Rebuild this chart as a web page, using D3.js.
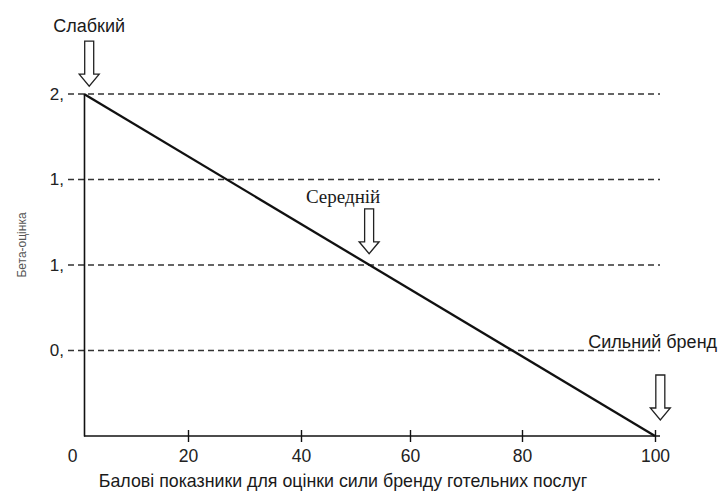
<!DOCTYPE html>
<html><head><meta charset="utf-8">
<script src="https://cdn.jsdelivr.net/npm/d3@7"></script>
<style>body{margin:0;background:#fff}</style>
</head><body>
<svg id="chart" width="721" height="493"></svg>
<script>
// ---- data ----
const xTicks = [0, 20, 40, 60, 80, 100];
const xTickLabels = ["0", "20", "40", "60", "80", "100"];
const yTicks = [0.5, 1.0, 1.5, 2.0];
const yTickLabels = ["0,", "1,", "1,", "2,"];
const lineX = [0, 100];
const lineY = [2.0, 0.0];
const markerLabels = ["Слабкий", "Середній", "Сильний бренд"];
const markerX = [1, 52.5, 100.8];
const xTitle = "Балові показники для оцінки сили бренду готельних послуг";
const yTitle = "Бета-оцінка";

// ---- layout ----
const sans = "'Liberation Sans', Arial, sans-serif";
const serif = "'Liberation Serif', 'Times New Roman', serif";
const svg = d3.select("#chart");

// hand-drawn axis: tick spacing is slightly irregular in the source
const x = d3.scaleLinear().domain(xTicks).range([84, 188, 301, 410, 522, 655]);
const y = d3.scaleLinear().domain([0, 2]).range([436, 94]);

// dashed grid lines
svg.append("g").selectAll("line").data(yTicks).join("line")
  .attr("x1", 68).attr("x2", 660)
  .attr("y1", d => y(d)).attr("y2", d => y(d))
  .attr("stroke", "#333").attr("stroke-width", 1.3)
  .attr("stroke-dasharray", "6,4");

// y axis
const ya = svg.append("g").attr("transform", `translate(${x(0)},0)`)
  .call(d3.axisLeft(y).tickValues(yTicks).tickSize(0).tickPadding(20)
    .tickFormat((d, i) => yTickLabels[i]));
ya.select(".domain").attr("stroke", "#111").attr("stroke-width", 1.6);
ya.selectAll("text").attr("font-family", sans).attr("font-size", 17).attr("fill", "#222");

// x axis
const xa = svg.append("g").attr("transform", `translate(0,${y(0)})`)
  .call(d3.axisBottom(x).tickValues(xTicks).tickSize(6).tickSizeOuter(0).tickPadding(8)
    .tickFormat((d, i) => xTickLabels[i]));
xa.select(".domain").remove();
xa.append("line").attr("x1", x(0)).attr("x2", x(100) + 5).attr("y1", 0).attr("y2", 0)
  .attr("stroke", "#111").attr("stroke-width", 1.6);
xa.selectAll(".tick line").attr("y1", -6).attr("y2", 6).attr("stroke", "#111").attr("stroke-width", 1.4)
  .filter(d => d === 0).remove();
xa.selectAll(".tick text").attr("font-family", sans).attr("font-size", 17.5).attr("fill", "#222")
  .attr("dx", d => d === 0 ? -12 : 0);

// main line
svg.append("path")
  .datum(lineX.map((v, i) => [v, lineY[i]]))
  .attr("d", d3.line().x(d => x(d[0])).y(d => y(d[1])))
  .attr("fill", "none").attr("stroke", "#111").attr("stroke-width", 2.3);

// arrows + labels
const px0 = x(lineX[0]), py0 = y(lineY[0]), px1 = x(lineX[1]), py1 = y(lineY[1]);
function lineYAt(px) {
  const t = Math.max(0, Math.min(1, (px - px0) / (px1 - px0)));
  return py0 + t * (py1 - py0);
}
const labelLayout = [
  {dx: 0, dy: -9, anchor: "middle", font: sans, size: 18, gap: 11},
  {dx: -26, dy: -6, anchor: "middle", font: serif, size: 19, gap: 11},
  {dx: -72, dy: -27, anchor: "start", font: sans, size: 18, gap: 16}
];
markerLabels.forEach((lab, i) => {
  const L = labelLayout[i];
  const cx = x(markerX[i]);
  const tip = lineYAt(cx) - L.gap;
  const top = tip - 45;
  const p = d3.path();
  p.moveTo(cx - 4.5, top); p.lineTo(cx + 4.5, top); p.lineTo(cx + 4.5, tip - 12);
  p.lineTo(cx + 10, tip - 12); p.lineTo(cx, tip); p.lineTo(cx - 10, tip - 12);
  p.lineTo(cx - 4.5, tip - 12); p.closePath();
  svg.append("path").attr("d", p.toString())
    .attr("fill", "#fff").attr("stroke", "#222").attr("stroke-width", 1.3);
  svg.append("text").attr("x", cx + L.dx).attr("y", top + L.dy)
    .attr("text-anchor", L.anchor).attr("font-family", L.font).attr("font-size", L.size)
    .attr("fill", "#1a1a1a").text(lab);
});

// axis titles
svg.append("text").attr("x", 343).attr("y", 487).attr("text-anchor", "middle")
  .attr("font-family", sans).attr("font-size", 17.8).attr("fill", "#1a1a1a").text(xTitle);
svg.append("text").attr("transform", "translate(26,245) rotate(-90)").attr("text-anchor", "middle")
  .attr("font-family", sans).attr("font-size", 12).attr("fill", "#555").text(yTitle);
</script>
</body></html>
